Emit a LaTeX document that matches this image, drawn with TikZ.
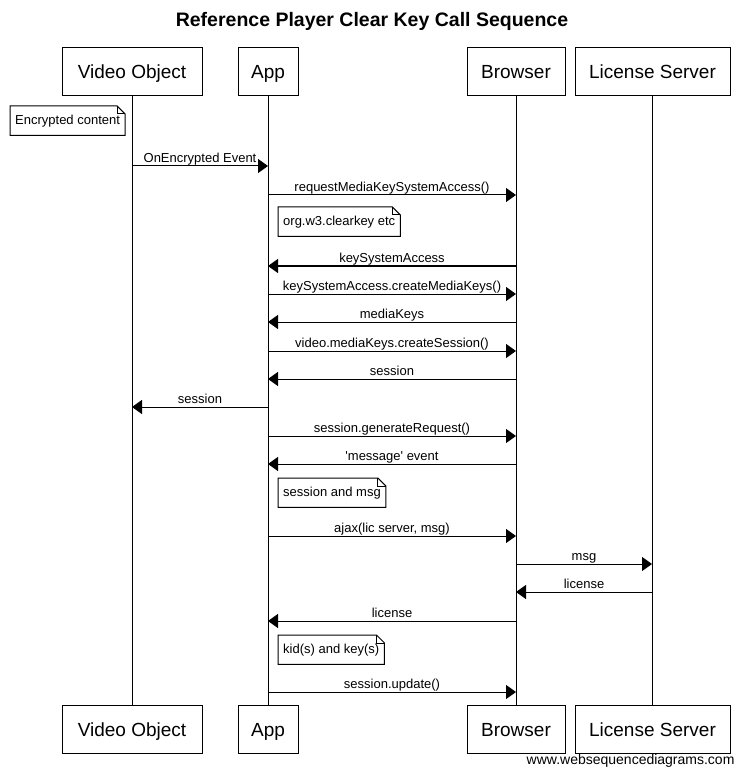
\documentclass[tikz,border=0pt]{standalone}
\usepackage{fontspec}
\setmainfont{Liberation Sans}
\usepackage{tikz}
\usetikzlibrary{arrows.meta,positioning}
\tikzstyle{actor} = [rectangle, draw=black, line width=1pt, fill=white, text=black, font=\fontsize{19}{21}\selectfont, minimum height=48pt, inner sep=0pt, text height=14pt, text depth=0pt]
\tikzstyle{lifeline} = [draw, line width=1pt]
\tikzstyle{msg} = [draw, line width=1pt, -{Triangle[length=10pt,width=14pt]}]
\tikzstyle{lbl} = [above, inner sep=0.5pt, text depth=2.5pt, font=\fontsize{13}{15}\selectfont]
\tikzstyle{notebox} = [anchor=north west, inner xsep=5pt, minimum height=29pt, font=\fontsize{13}{15}\selectfont]
\newcommand{\foldnote}[1]{%
  \draw[line width=1pt] (#1.north west) -- ([xshift=-8pt]#1.north east) -- ([yshift=-8pt]#1.north east) -- (#1.south east) -- (#1.south west) -- cycle;
  \draw[line width=1pt] ([xshift=-8pt]#1.north east) |- ([yshift=-8pt]#1.north east);}

\begin{document}
\begin{tikzpicture}[x=1pt, y=-1pt]
\path[fill=white, use as bounding box] (0,0) rectangle (745,775);

\node[font=\bfseries\fontsize{19.5}{22}\selectfont] (title) at (372,21) {Reference Player Clear Key Call Sequence};

% actors =============================
\node[actor, minimum width=140pt] (vo) at (132,72) {Video Object};
\node[actor, minimum width=60pt] (app) at (268,72) {App};
\node[actor, minimum width=98pt] (br) at (516,72) {Browser};
\node[actor, minimum width=155pt] (ls) at (652.5,72) {License Server};

\node[actor, minimum width=140pt, below=608pt of vo] (vob) {Video Object};
\node[actor, minimum width=60pt, below=608pt of app] (appb) {App};
\node[actor, minimum width=98pt, below=608pt of br] (brb) {Browser};
\node[actor, minimum width=155pt, below=608pt of ls] (lsb) {License Server};

% lifelines
\path[lifeline] (vo) -- (vob);
\path[lifeline] (app) -- (appb);
\path[lifeline] (br) -- (brb);
\path[lifeline] ([xshift=-0.5pt]ls.south) -- ([xshift=-0.5pt]lsb.north);

% notes
\node[notebox] (enc) at (10,106) {Encrypted content};
\foldnote{enc}
\node[notebox] (ck) at (278,207) {org.w3.clearkey etc};
\foldnote{ck}
\node[notebox] (sm) at (278,478) {session and msg};
\foldnote{sm}
\node[notebox] (kk) at (278,635) {kid(s) and key(s)};
\foldnote{kk}

% messages
\path[msg] (vo |- 0,166) -- node[lbl] {OnEncrypted Event} (app |- 0,166);
\path[msg] (app |- 0,195) -- node[lbl] {requestMediaKeySystemAccess()} (br |- 0,195);
\path[msg] (br |- 0,266) -- node[lbl] {keySystemAccess} (app |- 0,266);
\path[msg] (app |- 0,294) -- node[lbl] {keySystemAccess.createMediaKeys()} (br |- 0,294);
\path[msg] (br |- 0,322) -- node[lbl] {mediaKeys} (app |- 0,322);
\path[msg] (app |- 0,351) -- node[lbl] {video.mediaKeys.createSession()} (br |- 0,351);
\path[msg] (br |- 0,379) -- node[lbl] {session} (app |- 0,379);
\path[msg] (app |- 0,407) -- node[lbl] {session} (vo |- 0,407);
\path[msg] (app |- 0,436) -- node[lbl] {session.generateRequest()} (br |- 0,436);
\path[msg] (br |- 0,464) -- node[lbl] {\textquotesingle message\textquotesingle{} event} (app |- 0,464);
\path[msg] (app |- 0,536) -- node[lbl] {ajax(lic server, msg)} (br |- 0,536);
\path[msg] (br |- 0,564) -- node[lbl] {msg} ([xshift=-0.5pt]ls |- 0,564);
\path[msg] ([xshift=-0.5pt]ls |- 0,592) -- node[lbl] {license} (br |- 0,592);
\path[msg] (br |- 0,621) -- node[lbl] {license} (app |- 0,621);
\path[msg] (app |- 0,692) -- node[lbl] {session.update()} (br |- 0,692);

\node[anchor=east, font=\fontsize{14}{16}\selectfont] (wsd) at (738,761) {www.websequencediagrams.com};

\end{tikzpicture}
\end{document}
